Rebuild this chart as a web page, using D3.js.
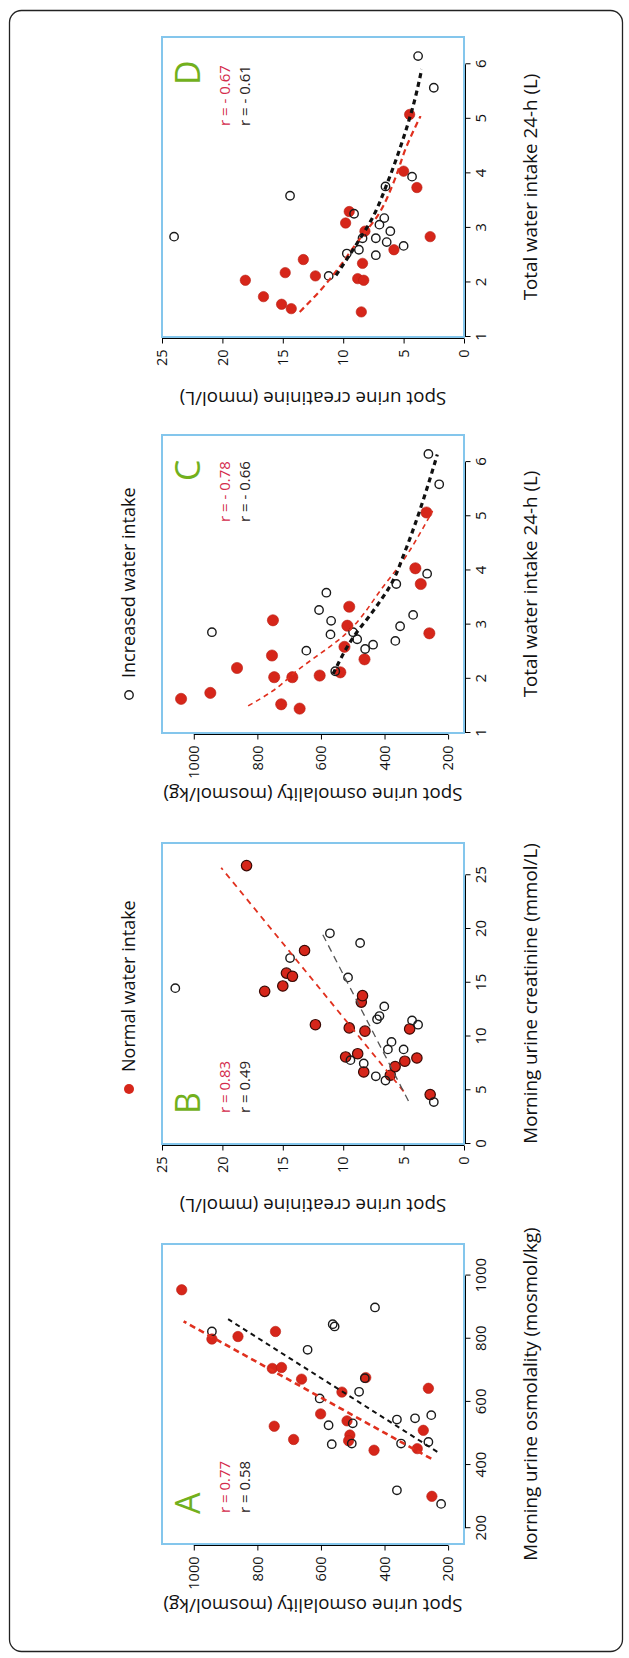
<!DOCTYPE html>
<html><head><meta charset="utf-8">
<script src="https://cdn.jsdelivr.net/npm/d3@7"></script>
<style>html,body{margin:0;padding:0;background:#fff}svg{display:block}text{font-family:"Open Sans",sans-serif}</style>
</head><body><svg id="c" width="629" height="1658"></svg>
<script>
// ---- data (x = morning value / water intake, y = spot value) ----
const aNormal = [[955,1038],[799,943],[807,861],[823,743],[706,753],[709,724],[672,661],[677,459],[631,534],[562,601],[540,518],[523,747],[481,686],[495,509],[477,513],[447,433],[510,278],[452,297],[643,262],[301,251]];
const aIncreased = [[823,943],[839,557],[846,563],[899,430],[765,642],[611,604],[632,480],[526,576],[466,566],[532,500],[468,503],[544,361],[548,304],[558,253],[468,348],[473,262],[320,361],[277,222],[675,462]];
const aFitNormal = [[420,253],[855,1032]];
const aFitIncreased = [[442,234],[862,892]];

const bNormal = [[25.9,18.0],[14.2,16.5],[14.7,15.0],[15.9,14.7],[15.6,14.2],[18.0,13.2],[11.1,12.3],[10.8,9.5],[8.1,9.8],[8.4,8.8],[13.2,8.5],[13.8,8.4],[10.5,8.2],[6.7,8.3],[6.4,6.1],[7.2,5.7],[7.7,4.9],[8.0,3.9],[10.7,4.5],[4.6,2.8]];
const bIncreased = [[14.5,23.9],[19.6,11.1],[18.7,8.6],[17.3,14.4],[15.5,9.6],[12.8,6.6],[11.9,7.0],[11.6,7.2],[11.5,4.3],[11.1,3.8],[9.5,6.0],[8.8,6.3],[8.8,5.0],[7.5,8.3],[7.8,9.4],[6.3,7.3],[5.9,6.5],[3.9,2.5]];
const bFitNormal = [[4.9,5.0],[25.7,20.1]];
const bFitIncreased = [[4.0,4.6],[19.6,11.75]];

const cNormal = [[1.63,1040],[1.74,948],[2.20,864],[2.43,754],[3.08,751],[2.03,747],[2.03,690],[1.53,725],[1.45,667],[2.06,604],[2.12,539],[2.59,526],[2.98,517],[3.33,511],[2.36,463],[4.04,303],[3.75,286],[2.84,259],[5.07,268]];
const cIncreased = [[2.86,943],[3.59,583],[3.27,606],[3.07,568],[2.82,570],[2.52,646],[2.14,555],[2.86,499],[2.73,486],[2.55,461],[2.63,436],[2.70,366],[2.97,351],[3.18,310],[3.75,363],[3.94,266],[5.59,228],[6.15,262]];
const cFitNormal = [[1.50,829],[1.78,751],[2.15,675],[2.82,524],[3.75,398],[4.24,335],[4.73,284],[5.10,249]];
const cFitIncreased = [[2.09,562],[2.76,499],[3.25,436],[3.75,379],[4.36,335],[4.97,297],[5.77,253],[6.14,234]];

const dNormal = [[2.04,18.1],[1.74,16.6],[1.60,15.1],[1.52,14.3],[2.18,14.8],[2.42,13.3],[2.12,12.3],[3.09,9.8],[3.30,9.5],[2.07,8.8],[2.04,8.3],[2.35,8.4],[1.46,8.5],[2.94,8.2],[2.60,5.8],[4.04,5.0],[5.08,4.5],[3.74,3.9],[2.84,2.8]];
const dIncreased = [[2.84,24.0],[3.59,14.4],[2.12,11.2],[2.53,9.7],[2.60,8.7],[3.26,9.1],[2.81,8.4],[2.81,7.3],[2.50,7.3],[3.06,7.0],[3.18,6.6],[2.74,6.4],[2.94,6.1],[3.76,6.5],[2.67,5.0],[3.94,4.3],[5.57,2.5],[6.15,3.8]];
const dFitNormal = [[1.46,13.6],[1.89,11.75],[2.26,10.4],[2.75,8.8],[3.24,7.1],[3.85,5.8],[4.47,4.8],[5.05,3.6]];
const dFitIncreased = [[2.13,10.6],[2.63,9.1],[3.24,7.45],[3.85,6.3],[4.59,5.1],[5.33,4.1],[5.91,3.5]];

const osmTicks = [200,400,600,800,1000];
const creatTicks = [0,5,10,15,20,25];
const intakeTicks = [1,2,3,4,5,6];

const letters = ["A","B","C","D"];
const rNormal = ["r = 0.77","r = 0.83","r = - 0.78","r = - 0.67"];
const rIncreased = ["r = 0.58","r = 0.49","r = - 0.66","r = - 0.61"];
const xLabels = ["Morning urine osmolality (mosmol/kg)","Morning urine creatinine (mmol/L)","Total water intake 24-h (L)","Total water intake 24-h (L)"];
const yLabels = ["Spot urine osmolality (mosmol/kg)","Spot urine creatinine (mmol/L)","Spot urine osmolality (mosmol/kg)","Spot urine creatinine (mmol/L)"];
const legendLabels = ["Normal water intake","Increased water intake"];

// ---- drawing ----
const RED = "#d6261a", BLUE = "#84c6ec", GREEN = "#72b01d", RTXT = "#d42c4c", DARK = "#2a2222";
const svg = d3.select("#c");
svg.append("rect").attr("x",9.5).attr("y",10.5).attr("width",613).attr("height",1641).attr("rx",12)
  .attr("fill","none").attr("stroke","#222").attr("stroke-width",1.3);
const g = svg.append("g").attr("transform","translate(0,1658) rotate(-90)");

const TOP = 162, BOT = 464;
const panels = [
  {left:114, w:300, xd:[150,1100], yd:[150,1100], xt:osmTicks, yt:osmTicks, n:aNormal, inc:aIncreased, fn:aFitNormal, fi:aFitIncreased, lx:"left", style:"A"},
  {left:514, w:301, xd:[0,28], yd:[0,25], xt:creatTicks, yt:creatTicks, n:bNormal, inc:bIncreased, fn:bFitNormal, fi:bFitIncreased, lx:"left", style:"B"},
  {left:925, w:298, xd:[1,6.5], yd:[150,1100], xt:intakeTicks, yt:osmTicks, n:cNormal, inc:cIncreased, fn:cFitNormal, fi:cFitIncreased, lx:"right", style:"C"},
  {left:1321, w:300, xd:[1,6.5], yd:[0,25], xt:intakeTicks, yt:creatTicks, n:dNormal, inc:dIncreased, fn:dFitNormal, fi:dFitIncreased, lx:"right", style:"D"}
];

panels.forEach((p,i) => {
  const x = d3.scaleLinear().domain(p.xd).range([p.left, p.left+p.w]);
  const y = d3.scaleLinear().domain(p.yd).range([BOT, TOP]);
  const pg = g.append("g");

  // x axis
  const gx = pg.append("g").attr("transform",`translate(0,${BOT+1.5})`)
    .call(d3.axisBottom(x).tickValues(p.xt).tickSize(5).tickPadding(5).tickFormat(d3.format("d")));
  gx.attr("font-family",null).attr("font-size",null);
  gx.select(".domain").remove();
  gx.append("line").attr("x1",x(p.xt[0])).attr("x2",x(p.xt[p.xt.length-1])).attr("stroke","#000").attr("stroke-width",1);
  gx.selectAll(".tick line").attr("stroke","#000");
  gx.selectAll(".tick text").attr("font-size",15).attr("fill","#111");

  // y axis
  const gy = pg.append("g").attr("transform",`translate(${p.left-1.5},0)`)
    .call(d3.axisLeft(y).tickValues(p.yt).tickSize(5).tickPadding(6).tickFormat(d3.format("d")));
  gy.attr("font-family",null).attr("font-size",null);
  gy.select(".domain").remove();
  gy.append("line").attr("y1",y(p.yt[0])).attr("y2",y(p.yt[p.yt.length-1])).attr("stroke","#000").attr("stroke-width",1);
  gy.selectAll(".tick line").attr("stroke","#000");
  gy.selectAll(".tick text").attr("font-size",14.5).attr("fill","#111");

  // box
  pg.append("rect").attr("x",p.left).attr("y",TOP).attr("width",p.w).attr("height",BOT-TOP)
    .attr("fill","none").attr("stroke",BLUE).attr("stroke-width",2);

  // axis titles
  pg.append("text").attr("x",p.left+p.w/2).attr("y",537).attr("text-anchor","middle")
    .attr("font-size",18.8).attr("fill","#111").text(xLabels[i]);
  pg.append("text").attr("transform",`translate(${p.left-55},${(TOP+BOT)/2}) rotate(-90)`)
    .attr("text-anchor","middle").attr("font-size",18.8).attr("fill","#111").text(yLabels[i]);

  // points
  const filledStroke = p.style==="B" ? "#3a0a05" : "#b81e12";
  pg.append("g").selectAll("circle").data(p.n).join("circle")
    .attr("cx",d=>x(d[0])).attr("cy",d=>y(d[1])).attr("r", p.style==="C" ? 5.6 : 5.2)
    .attr("fill",RED).attr("stroke",filledStroke).attr("stroke-width", p.style==="B" ? 1.2 : 0.6);
  pg.append("g").selectAll("circle").data(p.inc).join("circle")
    .attr("cx",d=>x(d[0])).attr("cy",d=>y(d[1])).attr("r",4.2)
    .attr("fill","none").attr("stroke","#1a1a1a").attr("stroke-width",1.4);

  // fitted lines
  const line = d3.line().x(d=>x(d[0])).y(d=>y(d[1])).curve(d3.curveMonotoneX);
  const st = {
    A:{rw:2.6,rd:"6,4",kw:2,kd:"5,4",kc:"#111"},
    B:{rw:1.8,rd:"6,5",kw:1.3,kd:"7,5",kc:"#555"},
    C:{rw:1.6,rd:"5,4",kw:3.2,kd:"5,4",kc:"#111"},
    D:{rw:2.2,rd:"6,4",kw:3.2,kd:"5,4",kc:"#111"}
  }[p.style];
  pg.append("path").datum(p.fn).attr("d",line).attr("fill","none").attr("stroke","#e0301e")
    .attr("stroke-width",st.rw).attr("stroke-dasharray",st.rd);
  pg.append("path").datum(p.fi).attr("d",line).attr("fill","none").attr("stroke",st.kc)
    .attr("stroke-width",st.kw).attr("stroke-dasharray",st.kd);

  // panel letter and r values
  const lx = p.lx==="left" ? p.left+30 : p.left+252;
  const rx = p.lx==="left" ? p.left+31 : p.left+211;
  pg.append("text").attr("x",lx).attr("y",200).attr("font-size",34).attr("fill",GREEN).text(letters[i]);
  pg.append("text").attr("x",rx).attr("y",230).attr("font-size",15).attr("fill",RTXT).text(rNormal[i]);
  pg.append("text").attr("x",rx).attr("y",250).attr("font-size",15).attr("fill",DARK).text(rIncreased[i]);
});

// legend
const lg = g.append("g");
lg.append("circle").attr("cx",569).attr("cy",129).attr("r",5).attr("fill",RED);
lg.append("text").attr("x",586).attr("y",135).attr("font-size",18).attr("fill","#111").text(legendLabels[0]);
lg.append("circle").attr("cx",963).attr("cy",129).attr("r",4.2).attr("fill","none").attr("stroke","#1a1a1a").attr("stroke-width",1.4);
lg.append("text").attr("x",980).attr("y",135).attr("font-size",18).attr("fill","#111").text(legendLabels[1]);
</script></body></html>
